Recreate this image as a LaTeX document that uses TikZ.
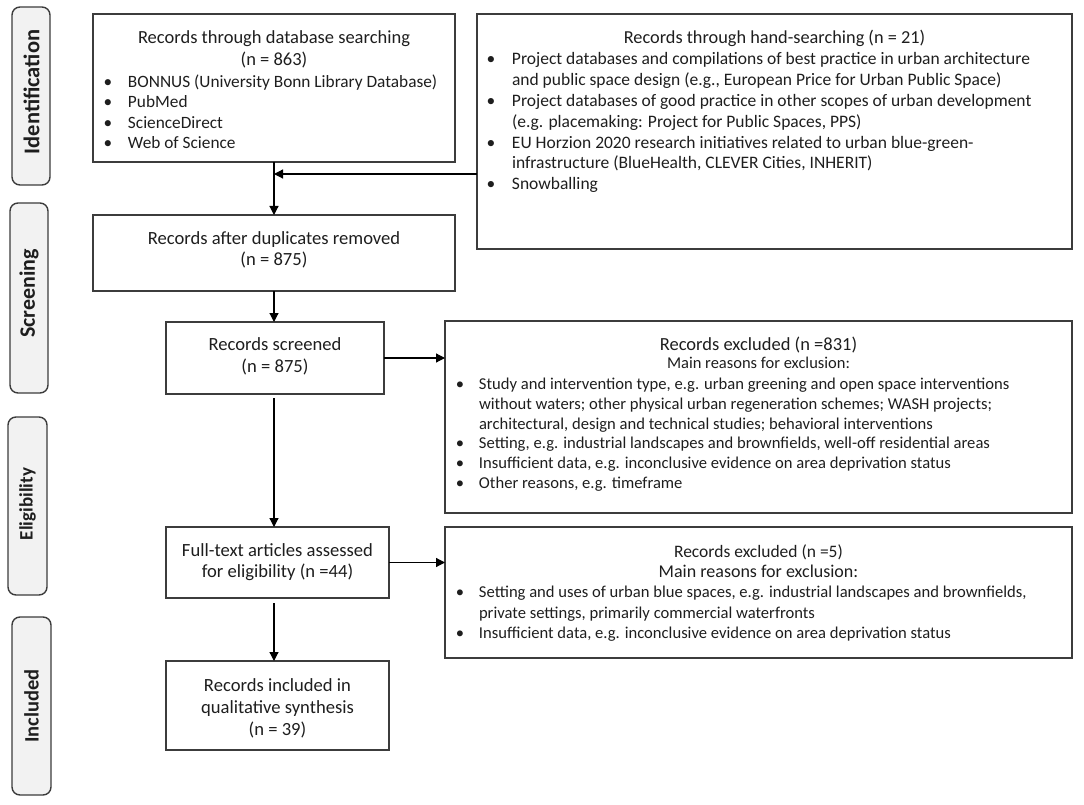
\documentclass[tikz,border=0pt]{standalone}
\usepackage{fontspec}
\setmainfont{Carlito}
\usetikzlibrary{arrows.meta}
\definecolor{edge}{HTML}{3C3C3C}
\definecolor{tabfill}{HTML}{F2F2F2}
\definecolor{ink}{HTML}{1E1E1E}
\newcommand{\bcell}[2]{\makebox[#2][l]{\hspace*{#1}\makebox[0pt][c]{\textbullet}}}
\newcommand{\fsz}[2]{\fontsize{#1}{#2}\selectfont}
\renewcommand{\arraystretch}{1}
\setlength{\tabcolsep}{0pt}
\begin{document}
\begin{tikzpicture}[x=1pt,y=-1pt,
  box/.style={draw=edge, line width=1.4pt, anchor=north west, inner sep=0pt, outer sep=0pt},
  tabbox/.style={draw=edge, fill=tabfill, line width=1.4pt, rounded corners=8pt, anchor=north west, inner sep=0pt, outer sep=0pt},
  tablabel/.style={rotate=90, font=\bfseries, text=ink, inner sep=0pt},
  lbl/.style={inner sep=0pt, outer sep=0pt, text=ink},
  arr/.style={-{Triangle[length=9pt,width=9pt]}, line width=1.2pt, draw=black},
]
\useasboundingbox (0,0) rectangle (1084,805);

% phase tabs
\node[tabbox, minimum width=38, minimum height=178] (t1) at (12,7) {};
\node[tablabel] (t1l) at ([xshift=0.5pt,yshift=4pt]t1.center) {\fsz{22.5}{24}Identification};
\node[tabbox, minimum width=38, minimum height=190] (t2) at (10,203) {};
\node[tablabel] (t2l) at ([yshift=4.5pt]t2.center) {\fsz{22}{24}Screening};
\node[tabbox, minimum width=39, minimum height=178] (t3) at (8,417) {};
\node[tablabel] (t3l) at ([yshift=2pt]t3.center) {\fsz{19}{22}Eligibility};
\node[tabbox, minimum width=39, minimum height=178] (t4) at (12,617) {};
\node[tablabel] (t4l) at (t4.center) {\fsz{20.5}{22}Included};

% boxes
\node[box, minimum width=362, minimum height=148] (db) at (93,14) {};
\node[box, minimum width=595, minimum height=235] (hand) at (477,14) {};
\node[box, minimum width=362, minimum height=76] (dup) at (93,215) {};
\node[box, minimum width=218, minimum height=72] (scr) at (166,322) {};
\node[box, minimum width=627, minimum height=192] (ex1) at (445,321) {};
\node[box, minimum width=223, minimum height=71] (ft) at (166,527) {};
\node[box, minimum width=627, minimum height=131] (ex2) at (445,527) {};
\node[box, minimum width=223, minimum height=89] (inc) at (166,661) {};

% texts
\node[lbl, anchor=base] (dbT) at (274,44) {\fsz{18.5}{21.7}\begin{tabular}[t]{c}Records through database searching\\(n = 863)\end{tabular}};
\node[lbl, anchor=base west] (dbL) at (93,87.5) {\fsz{17.3}{20.3}\begin{tabular}[t]{@{}l@{}l@{}}
\bcell{15pt}{35pt} & BONNUS (University Bonn Library Database)\\
\bcell{15pt}{35pt} & PubMed\\
\bcell{15pt}{35pt} & ScienceDirect\\
\bcell{15pt}{35pt} & Web of Science
\end{tabular}};

\node[lbl, anchor=base] (handT) at (774.5,43.5) {\fsz{18.3}{21}Records through hand-searching (n = 21)};
\node[lbl, anchor=base west] (handL) at (477,65) {\fsz{17.5}{20.8}\begin{tabular}[t]{@{}l@{}l@{}}
\bcell{14pt}{35pt} & Project databases and compilations of best practice in urban architecture\\
 & and public space design (e.g., European Price for Urban Public Space)\\
\bcell{14pt}{35pt} & Project databases of good practice in other scopes of urban development\\
 & (e.g. placemaking: Project for Public Spaces, PPS)\\
\bcell{14pt}{35pt} & EU Horzion 2020 research initiatives related to urban blue-green-\\
 & infrastructure (BlueHealth, CLEVER Cities, INHERIT)\\
\bcell{14pt}{35pt} & Snowballing
\end{tabular}};

\node[lbl, anchor=base] (dupT) at (274,244) {\fsz{18.6}{21.7}\begin{tabular}[t]{c}Records after duplicates removed\\(n = 875)\end{tabular}};
\node[lbl, anchor=base] (scrT) at (275,350) {\fsz{18.6}{22}\begin{tabular}[t]{c}Records screened\\(n = 875)\end{tabular}};

\node[lbl, anchor=base] (ex1T) at (758.5,350) {\fsz{18.5}{21}Records excluded (n =831)};
\node[lbl, anchor=base] (ex1M) at (758.5,368.5) {\fsz{16.5}{20}Main reasons for exclusion:};
\node[lbl, anchor=base west] (ex1L) at (445,389.5) {\fsz{16.6}{19.8}\begin{tabular}[t]{@{}l@{}l@{}}
\bcell{15pt}{34pt} & Study and intervention type, e.g. urban greening and open space interventions\\
 & without waters; other physical urban regeneration schemes; WASH projects;\\
 & architectural, design and technical studies; behavioral interventions\\
\bcell{15pt}{34pt} & Setting, e.g. industrial landscapes and brownfields, well-off residential areas\\
\bcell{15pt}{34pt} & Insufficient data, e.g. inconclusive evidence on area deprivation status\\
\bcell{15pt}{34pt} & Other reasons, e.g. timeframe
\end{tabular}};

\node[lbl, anchor=base] (ftT) at (277.5,556) {\fsz{18.6}{21}\begin{tabular}[t]{c}Full-text articles assessed\\for eligibility (n =44)\end{tabular}};

\node[lbl, anchor=base] (ex2T) at (758.5,557) {\fsz{17.5}{21}Records excluded (n =5)};
\node[lbl, anchor=base] (ex2M) at (758.5,577) {\fsz{18}{21}Main reasons for exclusion:};
\node[lbl, anchor=base west] (ex2L) at (445,597.5) {\fsz{16.6}{20.5}\begin{tabular}[t]{@{}l@{}l@{}}
\bcell{15pt}{34pt} & Setting and uses of urban blue spaces, e.g. industrial landscapes and brownfields,\\
 & private settings, primarily commercial waterfronts\\
\bcell{15pt}{34pt} & Insufficient data, e.g. inconclusive evidence on area deprivation status
\end{tabular}};

\node[lbl, anchor=base] (incT) at (277.5,691) {\fsz{18.6}{22}\begin{tabular}[t]{c}Records included in\\qualitative synthesis\\(n = 39)\end{tabular}};

% connectors
\coordinate (join) at (274,174);
\path ([yshift=-4pt]scr.south) coordinate (s1);
\path ([yshift=-5pt]ft.south) coordinate (f1);
\draw[arr] (db.south) -- (dup.north);
\draw[arr] (hand.west |- join) -- (join);
\draw[arr] (dup.south) -- (dup.south |- scr.north);
\draw[arr] (scr.east) -- (scr.east -| ex1.west);
\draw[arr] (s1 -| join) -- (ft.north -| join);
\draw[arr] (ft.east) -- (ft.east -| ex2.west);
\draw[arr] (f1 -| join) -- (inc.north -| join);
\end{tikzpicture}
\end{document}
